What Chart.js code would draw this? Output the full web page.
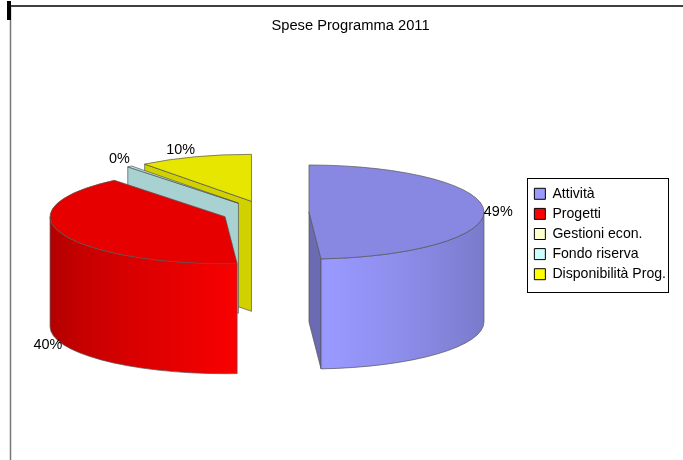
<!DOCTYPE html>
<html>
<head>
<meta charset="utf-8">
<title>Spese Programma 2011</title>
<script src="https://cdn.jsdelivr.net/npm/chart.js@4"></script>
<style>
    html, body { margin: 0; padding: 0; background: #fff; }
    #wrap { width: 683px; height: 460px; }
</style>
</head>
<body>
<div id="wrap"><canvas id="chart"></canvas></div>
<script>
const categories = ['Attività', 'Progetti', 'Gestioni econ.', 'Fondo riserva', 'Disponibilità Prog.'];
const values = [48.9, 40.2, 0, 0.45, 10.45];
const legendColors = ['#9999ff', '#ff0000', '#ffffcc', '#ccffff', '#ffff00'];
const topColors = ['#8888e2', '#e60000', '#e6e6b8', '#b8e6e6', '#e6e600'];
const faceColors = ['#6b6bb3', '#b30000', '#b3b38f', '#a8d1d1', '#d1d100'];

// piece of the 3d look
const pieX = 265.5;
const pieY = 212.4;
const squash = 47 / 175;
const depth = 110;
const explode = 43.5;
const edge = '#555555';

const total = values.reduce((acc, cur) => acc + cur, 0);

function shade (hex, f) {
    const n = parseInt(hex.slice(1), 16);
    return `rgb(${Math.round((n >> 16) * f)},${Math.round(((n >> 8) & 255) * f)},${Math.round((n & 255) * f)})`;
}

function geometry (arc) {
    const mid = (arc.startAngle + arc.endAngle) / 2;
    return {
        x: pieX + Math.cos(mid) * explode,
        y: pieY + Math.sin(mid) * explode * squash,
        rx: arc.outerRadius,
        ry: arc.outerRadius * squash,
        mid
    };
}

function drawFace (ctx, g, angle, color) {
    const ex = g.x + Math.cos(angle) * g.rx;
    const ey = g.y + Math.sin(angle) * g.ry;
    ctx.beginPath();
    ctx.moveTo(g.x, g.y);
    ctx.lineTo(ex, ey);
    ctx.lineTo(ex, ey + depth);
    ctx.lineTo(g.x, g.y + depth);
    ctx.closePath();
    ctx.fillStyle = color;
    ctx.fill();
    ctx.stroke();
}

function drawWall (ctx, g, arc, color) {
    const from = Math.max(arc.startAngle, 0);
    const to = Math.min(arc.endAngle, Math.PI);
    if (to <= from) return;

    const grad = ctx.createLinearGradient(g.x - g.rx, 0, g.x + g.rx, 0);
    [[0, 0.7], [0.1, 0.78], [0.25, 0.86], [0.5, 0.96], [0.55, 1], [0.7, 0.95], [0.85, 0.88], [1, 0.8]]
        .forEach(s => grad.addColorStop(s[0], shade(color, s[1])));

    ctx.beginPath();
    ctx.ellipse(g.x, g.y, g.rx, g.ry, 0, from, to);
    ctx.ellipse(g.x, g.y + depth, g.rx, g.ry, 0, to, from, true);
    ctx.closePath();
    ctx.fillStyle = grad;
    ctx.fill();
    ctx.stroke();
}

function drawTop (ctx, g, arc, color) {
    ctx.beginPath();
    ctx.moveTo(g.x, g.y);
    ctx.ellipse(g.x, g.y, g.rx, g.ry, 0, arc.startAngle, arc.endAngle);
    ctx.closePath();
    ctx.fillStyle = color;
    ctx.fill();
    ctx.stroke();
}

function drawLabel (ctx, g, value) {
    const sx = Math.cos(g.mid);
    const sy = Math.sin(g.mid);
    const front = sy > 0.2;
    const side = !front && sy > -0.2;
    ctx.font = '14.4px "Liberation Sans", Arial, sans-serif';
    ctx.fillStyle = '#000';
    ctx.textAlign = sx > 0 ? 'left' : 'right';
    ctx.textBaseline = front || side ? 'middle' : 'bottom';
    ctx.fillText(
        Math.round(value / total * 100) + '%',
        g.x + sx * g.rx,
        g.y + sy * g.ry + (front ? depth + 1 : 0) + (side ? 2 : 0)
    );
}

const pie3d = {
    id: 'pie3d',
    beforeDraw (chart) {
        const ctx = chart.ctx;
        ctx.save();
        // cornice della pagina
        ctx.strokeStyle = '#000';
        ctx.lineWidth = 1.5;
        ctx.beginPath();
        ctx.moveTo(10, 6);
        ctx.lineTo(683, 6);
        ctx.stroke();
        ctx.strokeStyle = '#777';
        ctx.beginPath();
        ctx.moveTo(10.5, 6);
        ctx.lineTo(10.5, 460);
        ctx.stroke();
        ctx.fillStyle = '#000';
        ctx.fillRect(7, 1, 4, 19);
        ctx.restore();
    },
    beforeDatasetDraw (chart) {
        const ctx = chart.ctx;
        const arcs = chart.getDatasetMeta(0).data;
        ctx.save();
        ctx.lineWidth = 0.7;
        ctx.strokeStyle = edge;
        // dal fondo verso il davanti
        [4, 3, 2, 1, 0].forEach(i => {
            const arc = arcs[i];
            if (!values[i]) return;
            const g = geometry(arc);
            if (Math.cos(arc.startAngle) < 0) drawFace(ctx, g, arc.startAngle, faceColors[i]);
            if (Math.cos(arc.endAngle) > 0) drawFace(ctx, g, arc.endAngle, faceColors[i]);
            drawWall(ctx, g, arc, legendColors[i]);
            drawTop(ctx, g, arc, topColors[i]);
        });
        arcs.forEach((arc, i) => {
            if (values[i]) drawLabel(ctx, geometry(arc), values[i]);
        });
        ctx.restore();
        return false;
    },
    afterDraw (chart) {
        const boxes = chart.legend.legendHitBoxes;
        const ctx = chart.ctx;
        const first = boxes[0];
        const last = boxes[boxes.length - 1];
        ctx.save();
        ctx.strokeStyle = '#000';
        ctx.lineWidth = 1;
        ctx.strokeRect(527.5, Math.round(first.top) - 8.5, 141, Math.round(last.top + last.height - first.top) + 19);
        ctx.restore();
    }
};

new Chart(document.getElementById('chart'), {
    type: 'pie',
    data: {
        labels: categories,
        datasets: [{
            data: values,
            backgroundColor: topColors,
            radius: 175
        }]
    },
    options: {
        responsive: true,
        maintainAspectRatio: false,
        animation: false,
        layout: { padding: { left: 25, right: 7, top: 8, bottom: 0 } },
        plugins: {
            tooltip: { enabled: false },
            title: {
                display: true,
                text: 'Spese Programma 2011',
                color: '#000',
                font: { family: '"Liberation Sans", Arial, sans-serif', size: 14.7, weight: 'normal' },
                padding: { top: 9, bottom: 11 }
            },
            legend: {
                position: 'right',
                labels: {
                    boxWidth: 11,
                    boxHeight: 11,
                    padding: 6,
                    color: '#000',
                    font: { family: '"Liberation Sans", Arial, sans-serif', size: 14.1 },
                    generateLabels: () => categories.map((text, i) => ({
                        text,
                        fillStyle: legendColors[i],
                        strokeStyle: '#000',
                        lineWidth: 1,
                        index: i
                    }))
                }
            }
        }
    },
    plugins: [pie3d]
});
</script>
</body>
</html>
